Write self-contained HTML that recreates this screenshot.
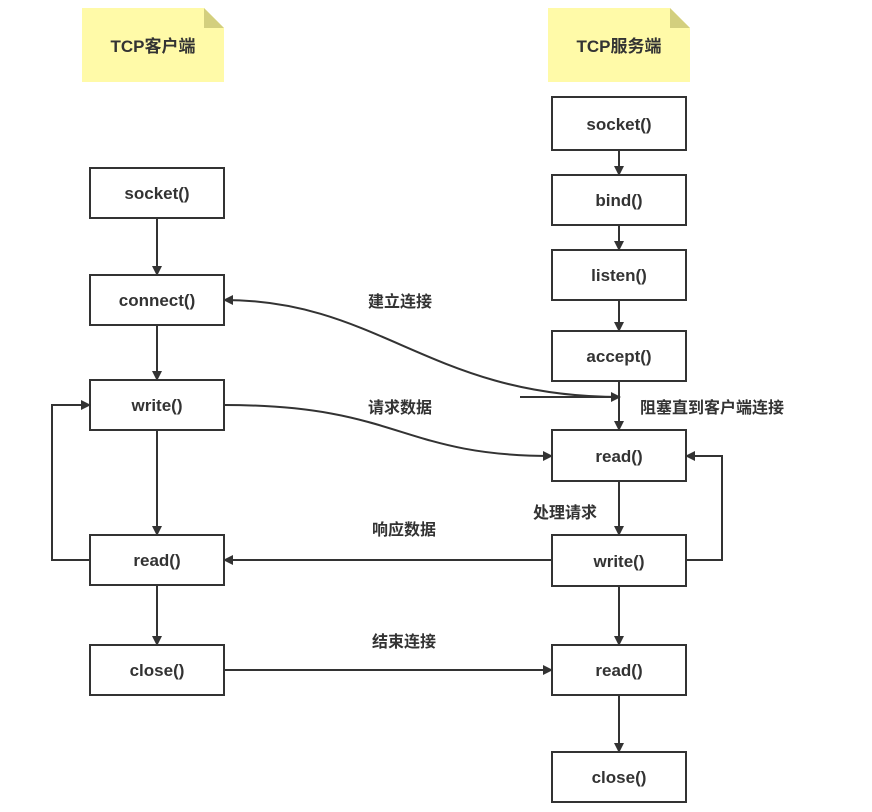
<!DOCTYPE html>
<html><head><meta charset="utf-8"><style>
body{margin:0;background:#fff;}
svg text{font-family:"Liberation Sans","Noto Sans CJK SC",sans-serif;font-weight:bold;fill:#333;}
</style></head><body>
<svg width="872" height="807" viewBox="0 0 872 807" xmlns="http://www.w3.org/2000/svg">
<defs><marker id="a" markerWidth="10" markerHeight="10" refX="9" refY="5" orient="auto" markerUnits="userSpaceOnUse"><path d="M0,0 L10,5 L0,10 Z" fill="#333"/></marker></defs>
<path d="M82,8 H204 L224,28 V82 H82 Z" fill="#fffaa8"/><path d="M204,8 L224,28 H204 Z" fill="#d3cf7e"/>
<path d="M548,8 H670 L690,28 V82 H548 Z" fill="#fffaa8"/><path d="M670,8 L690,28 H670 Z" fill="#d3cf7e"/>
<text x="153" y="52" font-size="17" text-anchor="middle">TCP客户端</text>
<text x="619" y="52" font-size="17" text-anchor="middle">TCP服务端</text>
<g fill="#fff" stroke="#333" stroke-width="2">
<rect x="90" y="168" width="134" height="50"/><rect x="90" y="275" width="134" height="50"/>
<rect x="90" y="380" width="134" height="50"/><rect x="90" y="535" width="134" height="50"/>
<rect x="90" y="645" width="134" height="50"/>
<rect x="552" y="97" width="134" height="53"/><rect x="552" y="175" width="134" height="50"/>
<rect x="552" y="250" width="134" height="50"/><rect x="552" y="331" width="134" height="50"/>
<rect x="552" y="430" width="134" height="51"/><rect x="552" y="535" width="134" height="51"/>
<rect x="552" y="645" width="134" height="50"/><rect x="552" y="752" width="134" height="50"/>
</g>
<g font-size="17" text-anchor="middle">
<text x="157" y="199">socket()</text><text x="157" y="306">connect()</text>
<text x="157" y="411">write()</text><text x="157" y="566">read()</text><text x="157" y="676">close()</text>
<text x="619" y="130">socket()</text><text x="619" y="206">bind()</text>
<text x="619" y="281">listen()</text><text x="619" y="362">accept()</text>
<text x="619" y="462">read()</text><text x="619" y="567">write()</text>
<text x="619" y="676">read()</text><text x="619" y="783">close()</text>
</g>
<g font-size="16">
<text x="368" y="307">建立连接</text><text x="368" y="413">请求数据</text>
<text x="372" y="535">响应数据</text><text x="372" y="647">结束连接</text>
<text x="640" y="413">阻塞直到客户端连接</text><text x="533" y="518">处理请求</text>
</g>
<g stroke="#333" stroke-width="2" fill="none" marker-end="url(#a)">
<path d="M157,218 V275"/><path d="M157,325 V380"/><path d="M157,430 V535"/><path d="M157,585 V645"/>
<path d="M619,150 V175"/><path d="M619,225 V250"/><path d="M619,300 V331"/><path d="M619,381 V430"/>
<path d="M619,481 V535"/><path d="M619,586 V645"/><path d="M619,695 V752"/>
<path d="M620,397 C 430,397 380,300 224,300"/>
<path d="M520,397 L620,397"/>
<path d="M224,405 C 400,405 400,456 552,456"/>
<path d="M552,560 H224"/>
<path d="M224,670 H552"/>
<path d="M90,560 H52 V405 H90"/>
<path d="M686,560 H722 V456 H686"/>
</g>
</svg>
</body></html>
